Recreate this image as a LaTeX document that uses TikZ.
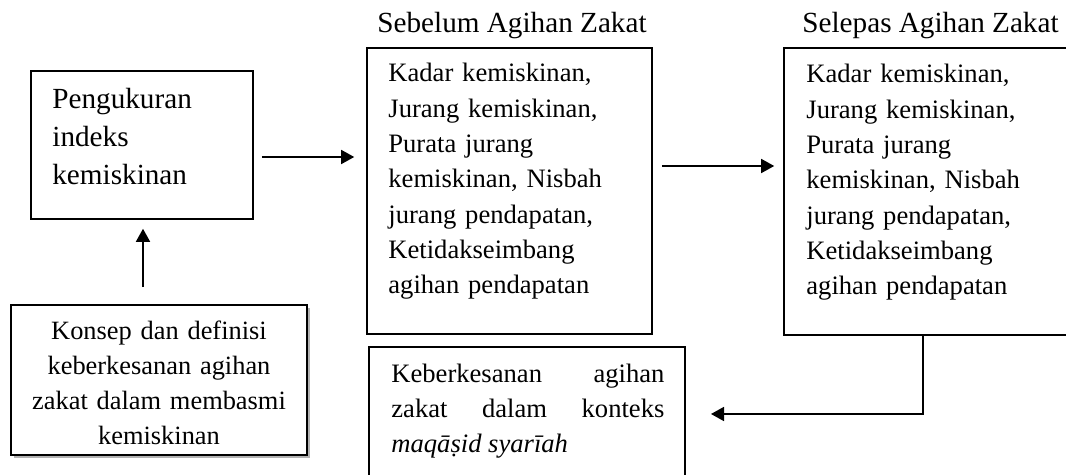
\documentclass[tikz,border=0pt]{standalone}
\usepackage{fontspec}
\setmainfont{Liberation Serif}
\usetikzlibrary{arrows.meta,shadows}
\newcommand{\bodyfs}{\fontsize{13.3pt}{17.65pt}\selectfont}
\newcommand{\bigfs}{\fontsize{14.6pt}{19pt}\selectfont}
\begin{document}
\begin{tikzpicture}[x=0.5pt,y=-0.5pt,
  box/.style={draw,line width=0.8pt,inner sep=0pt,fill=white},
  arr/.style={line width=0.8pt,-{Triangle[length=6.5pt,width=7pt]}},
  txt/.style={inner sep=0pt,anchor=base west,align=left,text width=130pt,font=\bodyfs},
  title/.style={inner sep=0pt,anchor=base west,font=\bigfs}]
\useasboundingbox (0,0) rectangle (1066,475);
\clip (0,0) rectangle (1066,475);

% boxes
\node[box,minimum width=111pt,minimum height=74pt] (pk) at (142,145) {};
\node[box,minimum width=142.5pt,minimum height=143pt] (before) at (509.5,191) {};
\node[box,minimum width=148pt,minimum height=143.5pt] (after) at (932,191.5) {};
\node[box,minimum width=148pt,minimum height=75pt,
      drop shadow={shadow xshift=1.5pt,shadow yshift=-1.5pt,fill=gray!60,opacity=1}] (konsep) at (159,380) {};
\node[box,minimum width=158pt,minimum height=76.5pt] (effect) at (527,423.5) {};

% titles
\node[title] (tbefore) at (377,33) {Sebelum Agihan Zakat};
\node[title] (tafter) at (802,33) {Selepas Agihan Zakat};

% texts
\node[txt,text width=100pt,font=\bigfs] (pktext) at (52,109) {Pengukuran\\ indeks\\ kemiskinan};
\node[txt] (btext) at (388,82) {Kadar kemiskinan,\\ Jurang kemiskinan,\\ Purata jurang\\ kemiskinan, Nisbah\\ jurang pendapatan,\\ Ketidakseimbang\\ agihan pendapatan};
\node[txt] (atext) at (806,83) {Kadar kemiskinan,\\ Jurang kemiskinan,\\ Purata jurang\\ kemiskinan, Nisbah\\ jurang pendapatan,\\ Ketidakseimbang\\ agihan pendapatan};
\node[inner sep=0pt,anchor=base,align=center,text width=146pt,font=\fontsize{13.2pt}{17.5pt}\selectfont] (ktext) at (159,340)
  {Konsep dan definisi\\ keberkesanan agihan\\ zakat dalam membasmi\\ kemiskinan};
\node[inner sep=0pt,anchor=base west,text width=136.5pt,align=justify,font=\fontsize{13.3pt}{17.5pt}\selectfont] (etext) at (391,383)
  {Keberkesanan agihan\linebreak zakat dalam konteks\linebreak \textit{maqāṣid syarīah}};

% connectors
\coordinate (y1) at (0,157);
\coordinate (y2) at (0,166);
\coordinate (xu) at (143,0);
\coordinate (elb) at (923,414);
\coordinate (etip) at (711,414);
\draw[arr,shorten <=4pt,shorten >=6pt] (pk.east |- y1) -- (before.west |- y1);
\draw[arr,shorten <=4.5pt,shorten >=4.5pt] (before.east |- y2) -- (after.west |- y2);
\draw[arr,shorten <=8.5pt,shorten >=4.5pt] (konsep.north -| xu) -- (pk.south -| xu);
\draw[arr] (after.south -| elb) -- (elb) -- (etip);
\end{tikzpicture}
\end{document}
